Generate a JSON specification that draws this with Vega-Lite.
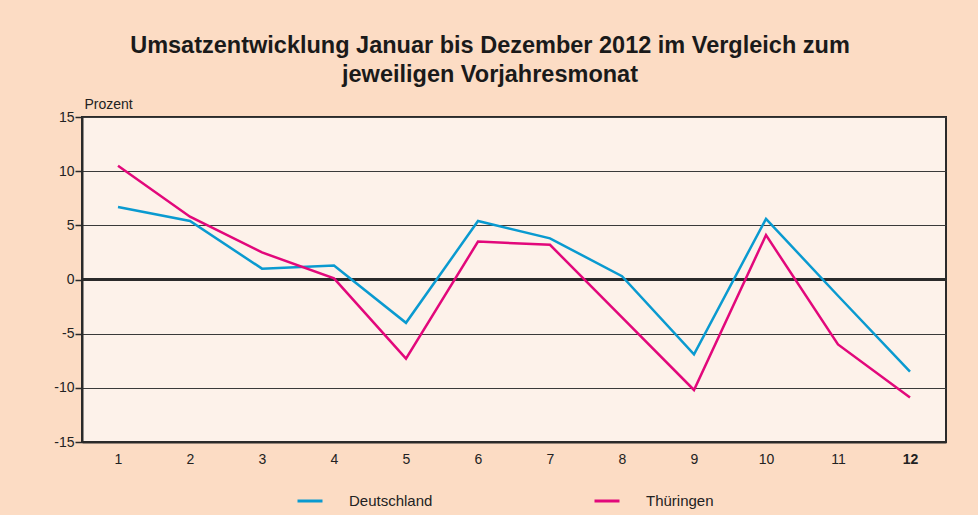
{
  "$schema": "https://vega.github.io/schema/vega-lite/v6.json",
  "width": 864,
  "height": 325,
  "autosize": "none",
  "padding": {"left": 82, "top": 117, "right": 32, "bottom": 73},
  "background": "#FCDCC4",
  "config": {
    "font": "Liberation Sans",
    "view": {"fill": "#FDF2EA", "stroke": "#2a2a2a", "strokeWidth": 2}
  },
  "title": {
    "text": ["Umsatzentwicklung Januar bis Dezember 2012 im Vergleich zum", "jeweiligen Vorjahresmonat"],
    "fontSize": 23.5,
    "fontWeight": "bold",
    "color": "#1a1a1a",
    "lineHeight": 29,
    "anchor": "middle",
    "frame": "group",
    "dx": -24,
    "offset": 11
  },
  "data": {
    "values": [
      {"month": 1, "region": "Deutschland", "value": 6.7},
      {"month": 2, "region": "Deutschland", "value": 5.4},
      {"month": 3, "region": "Deutschland", "value": 1.0},
      {"month": 4, "region": "Deutschland", "value": 1.3},
      {"month": 5, "region": "Deutschland", "value": -4.0},
      {"month": 6, "region": "Deutschland", "value": 5.4},
      {"month": 7, "region": "Deutschland", "value": 3.8},
      {"month": 8, "region": "Deutschland", "value": 0.3},
      {"month": 9, "region": "Deutschland", "value": -6.9},
      {"month": 10, "region": "Deutschland", "value": 5.6},
      {"month": 11, "region": "Deutschland", "value": -1.5},
      {"month": 12, "region": "Deutschland", "value": -8.5},
      {"month": 1, "region": "Thüringen", "value": 10.5},
      {"month": 2, "region": "Thüringen", "value": 5.8},
      {"month": 3, "region": "Thüringen", "value": 2.5},
      {"month": 4, "region": "Thüringen", "value": 0.1},
      {"month": 5, "region": "Thüringen", "value": -7.3},
      {"month": 6, "region": "Thüringen", "value": 3.5},
      {"month": 7, "region": "Thüringen", "value": 3.2},
      {"month": 8, "region": "Thüringen", "value": -3.5},
      {"month": 9, "region": "Thüringen", "value": -10.2},
      {"month": 10, "region": "Thüringen", "value": 4.1},
      {"month": 11, "region": "Thüringen", "value": -6.0},
      {"month": 12, "region": "Thüringen", "value": -10.9}
    ]
  },
  "layer": [
    {
      "mark": {"type": "rule", "color": "#2a2a2a", "strokeWidth": 2},
      "encoding": {"y": {"datum": 0, "type": "quantitative", "scale": {"domain": [-15, 15], "nice": false}}}
    },
    {
      "mark": {"type": "line", "strokeWidth": 2.5},
      "encoding": {
        "x": {
          "field": "month",
          "type": "ordinal",
          "axis": {
            "title": null,
            "labelAngle": 0,
            "ticks": false,
            "labelPadding": 10,
            "labelFontSize": 14,
            "labelColor": "#222",
            "labelFontWeight": {"condition": {"test": "datum.value == 12", "value": "bold"}, "value": "normal"},
            "domainColor": "#2a2a2a",
            "domainWidth": 2
          }
        },
        "y": {
          "field": "value",
          "type": "quantitative",
          "scale": {"domain": [-15, 15], "nice": false},
          "axis": {
            "title": "Prozent",
            "titleAngle": 0,
            "titleX": 2,
            "titleY": -6,
            "titleAlign": "left",
            "titleBaseline": "bottom",
            "titleFontSize": 14,
            "titleFontWeight": "normal",
            "titleColor": "#222",
            "values": [-15, -10, -5, 0, 5, 10, 15],
            "labelExpr": "'' + datum.value",
            "labelFontSize": 14,
            "labelColor": "#222",
            "labelPadding": 1,
            "tickSize": 7,
            "tickColor": "#2a2a2a",
            "tickWidth": 1.5,
            "domainColor": "#2a2a2a",
            "domainWidth": 2,
            "grid": true,
            "gridColor": "#3a3a3a",
            "gridWidth": 1
          }
        },
        "color": {
          "field": "region",
          "type": "nominal",
          "scale": {"domain": ["Deutschland", "Thüringen"], "range": ["#0A9AD0", "#E2087B"]},
          "legend": {
            "title": null,
            "orient": "none",
            "direction": "horizontal",
            "legendX": 214,
            "legendY": 370,
            "symbolType": "stroke",
            "symbolSize": 625,
            "symbolStrokeWidth": 3,
            "labelOffset": 25,
            "labelFontSize": 15,
            "labelColor": "#222",
            "columnPadding": 155
          }
        }
      }
    }
  ]
}
